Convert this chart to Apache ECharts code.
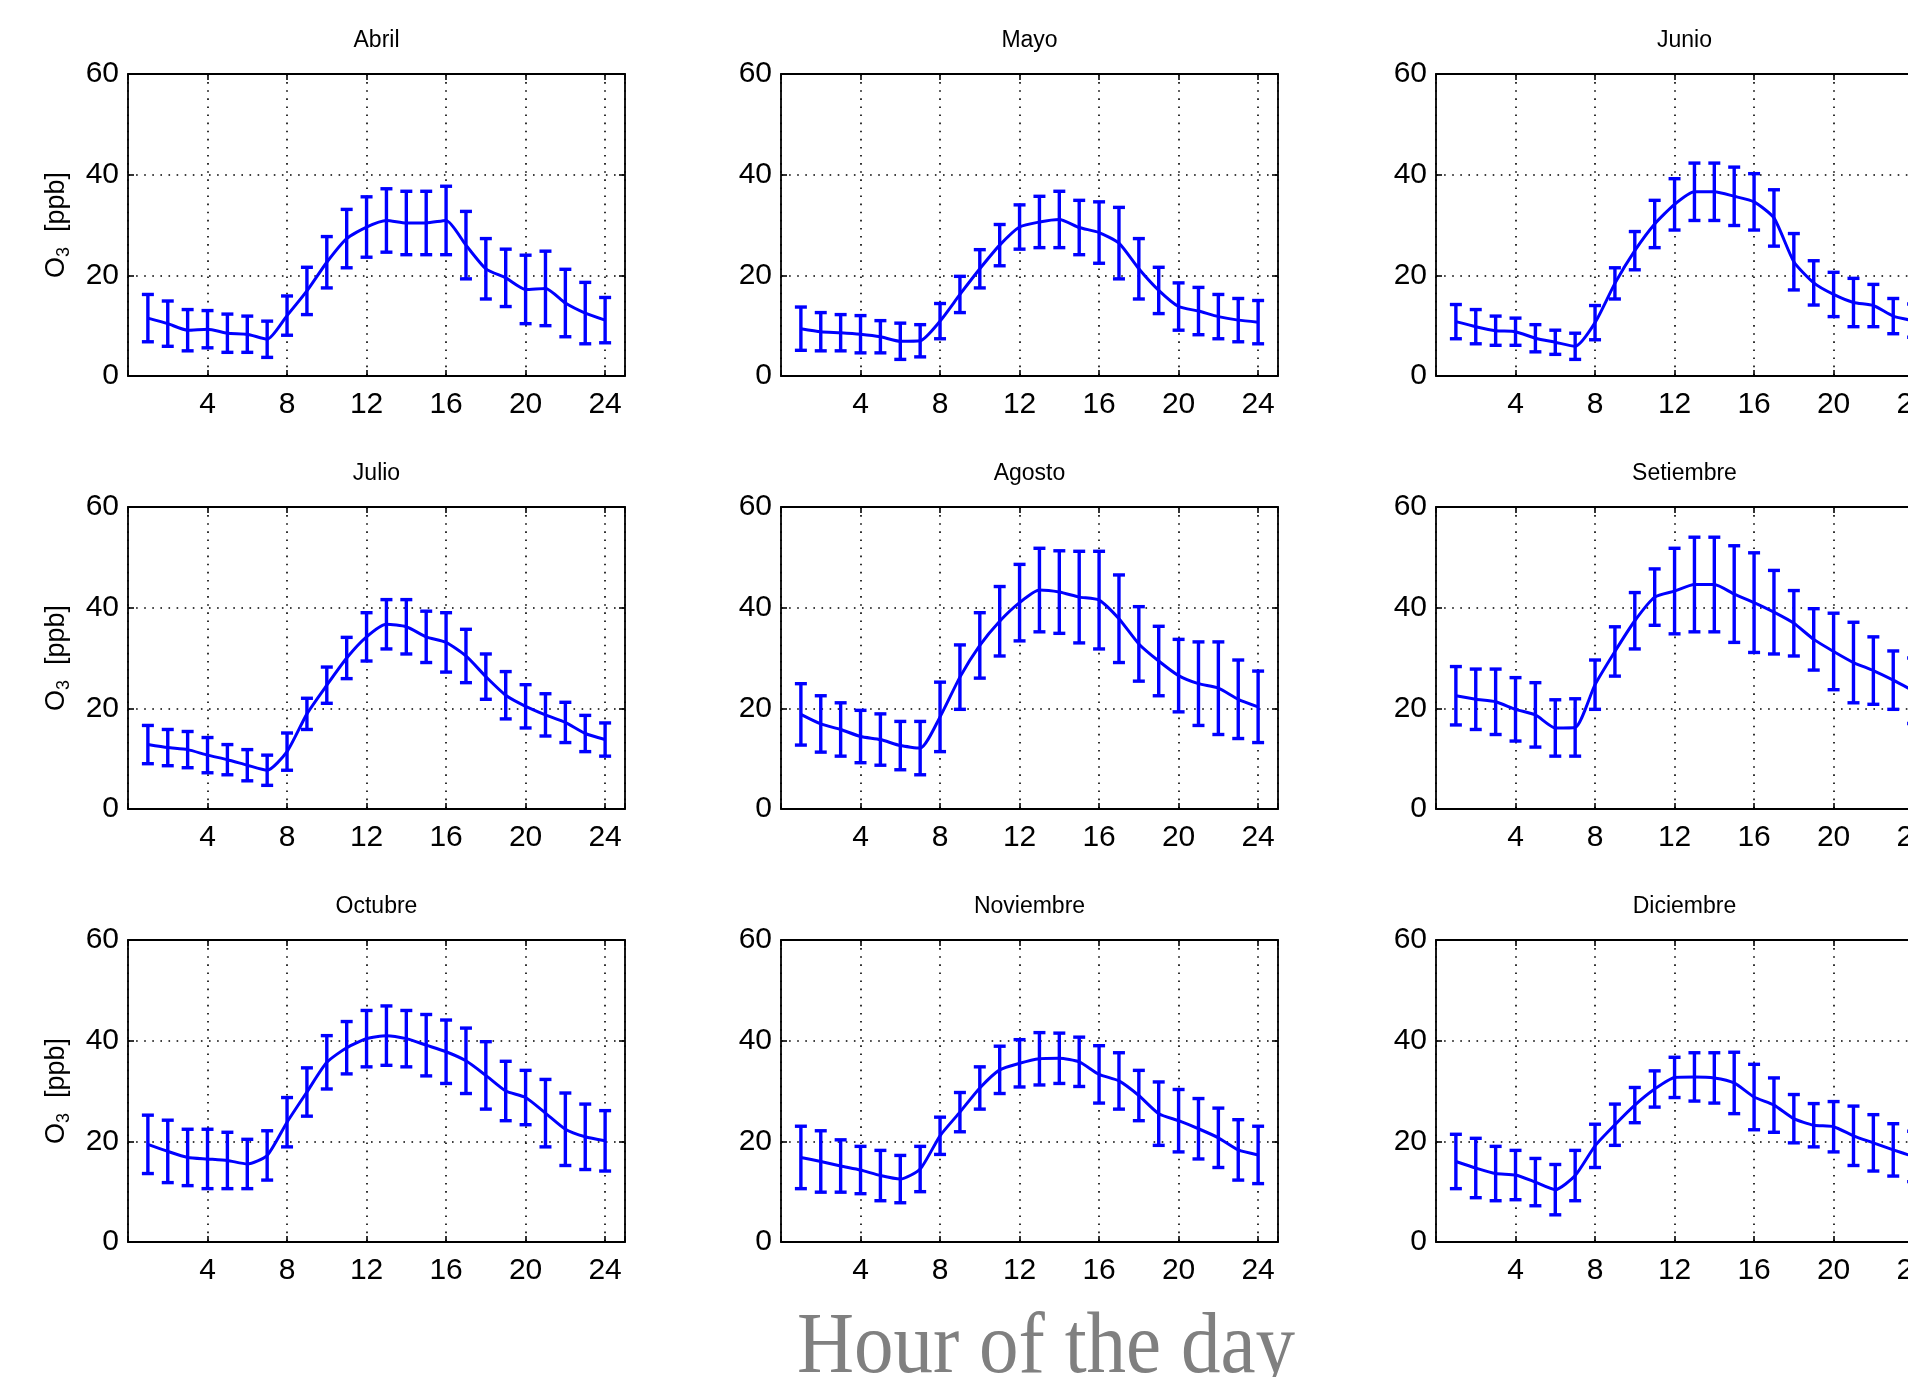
<!DOCTYPE html>
<html>
<head>
<meta charset="utf-8">
<script src="https://cdn.jsdelivr.net/npm/echarts@6/dist/echarts.min.js"></script>
<style>
html,body{margin:0;padding:0;background:#fff;}
#chart{width:1908px;height:1377px;}
</style>
</head>
<body>
<div id="chart"></div>
<script>
// ---------------- DATA ----------------
const hours = [1,2,3,4,5,6,7,8,9,10,11,12,13,14,15,16,17,18,19,20,21,22,23,24];
const months = ['Abril','Mayo','Junio','Julio','Agosto','Setiembre','Octubre','Noviembre','Diciembre'];
const xTicks = [4,8,12,16,20,24];
const yTicks = [0,20,40,60];

const meanAbril = [11.5,10.4,9.1,9.3,8.5,8.3,7.3,12.0,16.9,22.6,27.3,29.6,30.9,30.4,30.4,30.9,26.0,21.3,19.5,17.2,17.4,14.5,12.5,11.1];
const sdAbril   = [4.7,4.5,4.1,3.7,3.8,3.6,3.6,3.9,4.7,5.1,5.8,6.0,6.3,6.3,6.3,6.8,6.7,6.0,5.7,6.8,7.4,6.7,6.1,4.5];

const meanMayo = [9.4,8.8,8.6,8.3,7.8,6.9,7.0,10.9,16.2,21.3,26.0,29.6,30.6,31.1,29.5,28.5,26.4,21.3,17.0,13.8,12.9,11.8,11.1,10.7];
const sdMayo   = [4.3,3.8,3.6,3.7,3.2,3.6,3.2,3.5,3.6,3.8,4.1,4.4,5.1,5.6,5.4,6.1,7.1,6.0,4.6,4.7,4.7,4.4,4.3,4.3];

const meanJunio = [10.8,9.8,9.0,8.8,7.5,6.7,5.9,10.6,18.4,24.9,30.2,34.1,36.6,36.6,35.7,34.6,31.4,22.7,18.5,16.2,14.6,14.0,11.9,11.0];
const sdJunio   = [3.4,3.4,2.9,2.7,2.7,2.4,2.6,3.4,3.1,3.8,4.7,5.1,5.7,5.7,5.8,5.6,5.6,5.6,4.4,4.4,4.8,4.2,3.5,3.3];

const meanJulio = [12.8,12.2,11.8,10.7,9.8,8.7,7.7,11.4,18.9,24.6,30.0,34.2,36.7,36.2,34.2,33.1,30.4,26.3,22.6,20.4,18.7,17.2,15.0,13.8];
const sdJulio   = [3.8,3.6,3.6,3.5,3.0,3.1,3.0,3.7,3.1,3.6,4.1,4.8,4.9,5.4,5.1,5.9,5.3,4.5,4.7,4.3,4.2,4.0,3.6,3.3];

const meanAgosto = [18.8,16.9,15.8,14.4,13.8,12.6,12.1,18.3,26.2,32.5,37.3,41.0,43.5,43.1,42.1,41.5,37.8,32.8,29.4,26.5,24.9,24.0,21.8,20.3];
const sdAgosto   = [6.1,5.6,5.3,5.2,5.1,4.8,5.3,6.9,6.4,6.5,6.9,7.6,8.3,8.2,9.1,9.7,8.7,7.4,6.9,7.2,8.3,9.2,7.8,7.1];

const meanSetiembre = [22.5,21.8,21.3,19.8,18.7,16.1,16.2,24.7,31.3,37.4,42.1,43.3,44.6,44.6,42.7,41.0,39.1,36.9,33.7,31.3,29.1,27.5,25.6,23.5];
const sdSetiembre   = [5.8,6.0,6.5,6.3,6.4,5.6,5.7,4.9,4.9,5.6,5.6,8.5,9.4,9.4,9.6,9.9,8.3,6.5,6.1,7.6,8.0,6.7,5.8,6.5];

const meanOctubre = [19.4,18.0,16.8,16.5,16.2,15.5,17.2,23.8,29.8,35.7,38.6,40.4,41.0,40.4,39.1,37.8,36.0,33.1,30.0,28.7,25.6,22.4,20.9,20.1];
const sdOctubre   = [5.8,6.2,5.6,5.9,5.6,4.9,4.9,4.9,4.8,5.3,5.2,5.6,5.9,5.6,6.1,6.3,6.5,6.7,5.9,5.4,6.7,7.2,6.5,6.0];

const meanNoviembre = [16.8,16.0,15.1,14.3,13.2,12.5,14.5,21.1,25.8,30.6,34.2,35.5,36.4,36.5,35.8,33.3,32.0,29.1,25.5,24.1,22.5,20.7,18.3,17.3];
const sdNoviembre   = [6.2,6.1,5.2,4.7,5.0,4.7,4.5,3.7,3.9,4.2,4.7,4.7,5.2,5.0,4.9,5.7,5.6,5.0,6.3,6.2,6.0,5.9,6.0,5.7];

const meanDiciembre = [16.0,14.7,13.6,13.3,11.9,10.4,13.2,19.1,23.3,27.2,30.4,32.7,32.8,32.6,31.6,28.8,27.2,24.5,23.2,22.9,21.1,19.7,18.3,17.0];
const sdDiciembre   = [5.4,5.9,5.4,4.9,4.7,5.0,5.0,4.3,4.1,3.5,3.6,4.0,4.8,5.0,6.1,6.5,5.4,4.8,4.3,5.0,5.9,5.6,5.2,5.0];

const yAxisLabel = 'O3 [ppb]';
const xAxisTitle = 'Hour of the day';

// ---------------- LAYOUT ----------------
const colLeft = [128, 781, 1436];
const rowTop = [74, 507, 940];
const gridW = 497, gridH = 302;
const BLUE = '#0000ff';
const NARROW = '"Liberation Sans Narrow", "Arial Narrow", "Nimbus Sans Narrow", "Liberation Sans", Arial, sans-serif';

const means = [meanAbril, meanMayo, meanJunio, meanJulio, meanAgosto, meanSetiembre, meanOctubre, meanNoviembre, meanDiciembre];
const sds = [sdAbril, sdMayo, sdJunio, sdJulio, sdAgosto, sdSetiembre, sdOctubre, sdNoviembre, sdDiciembre];

function renderErr(params, api) {
  const x = api.value(0), m = api.value(1), s = api.value(2);
  const top = api.coord([x, m + s]);
  const bot = api.coord([x, m - s]);
  const hw = 6;
  const style = { stroke: BLUE, lineWidth: 3.4 };
  return {
    type: 'group',
    children: [
      { type: 'line', shape: { x1: top[0], y1: top[1], x2: bot[0], y2: bot[1] }, style: style },
      { type: 'line', shape: { x1: top[0] - hw, y1: top[1], x2: top[0] + hw, y2: top[1] }, style: style },
      { type: 'line', shape: { x1: bot[0] - hw, y1: bot[1], x2: bot[0] + hw, y2: bot[1] }, style: style }
    ]
  };
}

const grids = [], xAxes = [], yAxes = [], series = [], graphics = [];
const axisLineStyle = { color: '#000', width: 1.8 };
const tickStyle = { color: '#000', width: 1.6 };
const dotted = { color: '#000', width: 1.6, type: [1.6, 6.5] };

months.forEach((name, i) => {
  const c = i % 3, r = Math.floor(i / 3);
  grids.push({ left: colLeft[c], top: rowTop[r], width: gridW, height: gridH, containLabel: false, outerBoundsMode: 'none' });
  // bottom x axis
  xAxes.push({
    gridIndex: i, type: 'value', position: 'bottom', min: 0, max: 25, interval: 4,
    axisLine: { show: true, onZero: false, lineStyle: axisLineStyle },
    axisTick: { show: true, inside: true, length: 6, lineStyle: tickStyle },
    axisLabel: {
      show: true, margin: 14, color: '#000', fontFamily: NARROW, fontSize: 30,
      formatter: v => (xTicks.indexOf(v) >= 0 ? String(v) : '')
    },
    splitLine: { show: true, lineStyle: dotted }
  });
  // top x axis (frame + ticks)
  xAxes.push({
    gridIndex: i, type: 'value', position: 'top', min: 0, max: 25, interval: 4,
    axisLine: { show: true, onZero: false, lineStyle: axisLineStyle },
    axisTick: { show: true, inside: true, length: 6, lineStyle: tickStyle },
    axisLabel: { show: false }, splitLine: { show: false }
  });
  // left y axis
  const yl = {
    gridIndex: i, type: 'value', position: 'left', min: 0, max: 60, interval: 20,
    axisLine: { show: true, onZero: false, lineStyle: axisLineStyle },
    axisTick: { show: true, inside: true, length: 6, lineStyle: tickStyle },
    axisLabel: {
      show: true, margin: 9, color: '#000', fontFamily: NARROW, fontSize: 30,
      formatter: v => (yTicks.indexOf(v) >= 0 ? String(v) : '')
    },
    splitLine: { show: true, lineStyle: dotted }
  };
  if (c === 0) {
    const parts = yAxisLabel.split(' ');
    yl.name = '{a|' + parts[0].charAt(0) + '}{b|' + parts[0].slice(1) + '}{a|  ' + parts[1] + '}';
    yl.nameLocation = 'middle';
    yl.nameRotate = 90;
    yl.nameGap = 55;
    yl.nameTextStyle = {
      rich: {
        a: { fontFamily: '"Liberation Sans", Arial, sans-serif', fontSize: 27, color: '#000', lineHeight: 32 },
        b: { fontFamily: '"Liberation Sans", Arial, sans-serif', fontSize: 18, color: '#000', lineHeight: 18, verticalAlign: 'bottom' }
      }
    };
  }
  yAxes.push(yl);
  // right y axis
  yAxes.push({
    gridIndex: i, type: 'value', position: 'right', min: 0, max: 60, interval: 20,
    axisLine: { show: true, onZero: false, lineStyle: axisLineStyle },
    axisTick: { show: true, inside: true, length: 6, lineStyle: tickStyle },
    axisLabel: { show: false }, splitLine: { show: false }
  });

  const m = means[i], s = sds[i];
  series.push({
    type: 'line', name: name, xAxisIndex: 2 * i, yAxisIndex: 2 * i,
    data: hours.map((h, k) => [h, m[k]]),
    showSymbol: false, smooth: 0.2,
    lineStyle: { color: BLUE, width: 3 }, itemStyle: { color: BLUE },
    z: 3, silent: true, animation: false
  });
  series.push({
    type: 'custom', name: name + ' sd', xAxisIndex: 2 * i, yAxisIndex: 2 * i,
    data: hours.map((h, k) => [h, m[k], s[k]]),
    encode: { x: 0, y: 1 },
    renderItem: renderErr, z: 4, silent: true, animation: false
  });

  graphics.push({
    type: 'text', x: colLeft[c] + gridW / 2, y: rowTop[r] - 33,
    style: { text: name, fontFamily: NARROW, fontSize: 23, fill: '#000', align: 'center', verticalAlign: 'middle' }
  });
});

graphics.push({
  type: 'text', x: 1046, y: 1349, scaleY: 1.1, originX: 0, originY: 0,
  style: { text: xAxisTitle, fontFamily: '"Liberation Serif", "Times New Roman", serif', fontSize: 79, fill: '#808080', align: 'center', verticalAlign: 'middle' }
});

const chart = echarts.init(document.getElementById('chart'), null, { renderer: 'canvas' });
chart.setOption({
  animation: false,
  backgroundColor: '#fff',
  grid: grids, xAxis: xAxes, yAxis: yAxes, series: series, graphic: graphics
});
</script>
</body>
</html>
